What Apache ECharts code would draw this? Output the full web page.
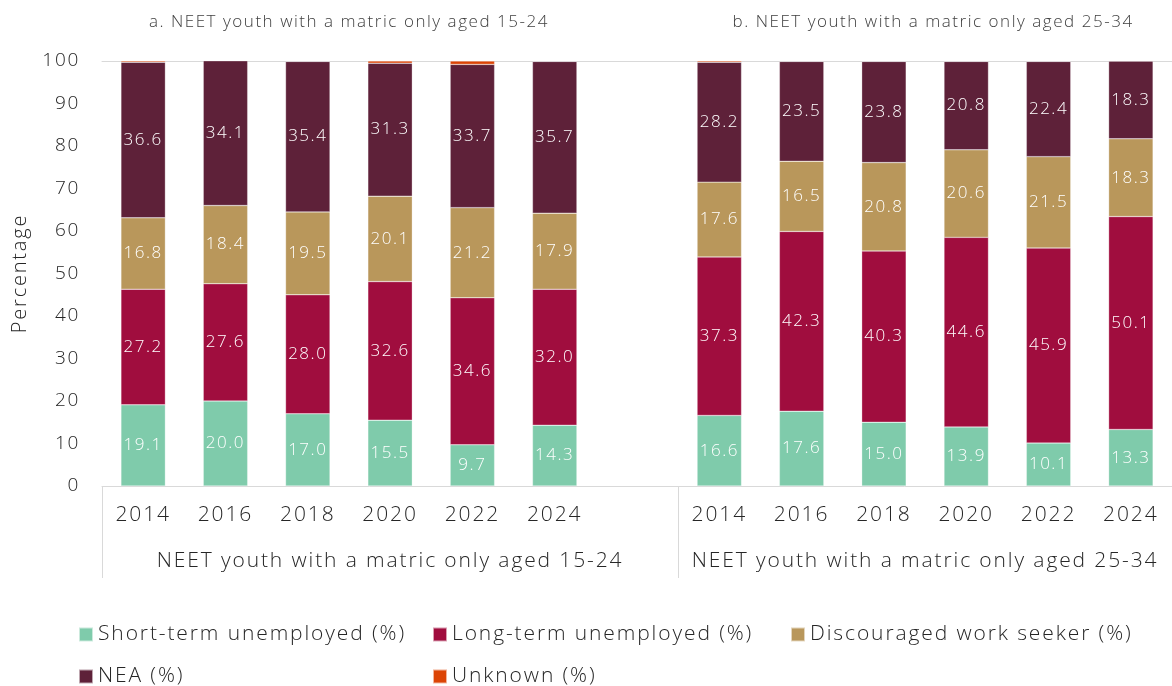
<!DOCTYPE html>
<html><head><meta charset="utf-8">
<script src="https://cdn.jsdelivr.net/npm/echarts@6/dist/echarts.min.js"></script>
<style>html,body{margin:0;padding:0;background:#fff}#c{width:1172px;height:686px}</style>
</head><body><div id="c"></div>
<script>
const years = ['2014','2016','2018','2020','2022','2024'];
const groupNames = ['NEET youth with a matric only aged 15-24','NEET youth with a matric only aged 25-34'];
const panelTitles = ['a. NEET youth with a matric only aged 15-24','b. NEET youth with a matric only aged 25-34'];
const seriesNames = ['Short-term unemployed (%)','Long-term unemployed (%)','Discouraged work seeker (%)','NEA (%)','Unknown (%)'];
const shortTerm15 = [19.1,20.0,17.0,15.5,9.7,14.3];
const longTerm15 = [27.2,27.6,28.0,32.6,34.6,32.0];
const discouraged15 = [16.8,18.4,19.5,20.1,21.2,17.9];
const nea15 = [36.6,34.1,35.4,31.3,33.7,35.7];
const unknown15 = [0.3,0.0,0.1,0.5,0.8,0.1];
const shortTerm25 = [16.6,17.6,15.0,13.9,10.1,13.3];
const longTerm25 = [37.3,42.3,40.3,44.6,45.9,50.1];
const discouraged25 = [17.6,16.5,20.8,20.6,21.5,18.3];
const nea25 = [28.2,23.5,23.8,20.8,22.4,18.3];
const unknown25 = [0.3,0.1,0.1,0.1,0.1,0.0];

// Widen text slightly (reference font is a wide geometric sans)
(function(){
  const P = CanvasRenderingContext2D.prototype;
  const setLS = ctx => {
    const m = /(\d+(?:\.\d+)?)px/.exec(ctx.font || '');
    if (m && 'letterSpacing' in ctx) ctx.letterSpacing = (parseFloat(m[1]) * 0.09).toFixed(2) + 'px';
  };
  const ft = P.fillText, mt = P.measureText;
  P.fillText = function(){ setLS(this); return ft.apply(this, arguments); };
  P.measureText = function(){ setLS(this); return mt.apply(this, arguments); };
})();

const colors = ['#7fcbab','#a00d3e','#b9975b','#5e2139','#dc4405'];
const FONT = '"Open Sans"';
const FW = 300;
const TXT = '#262626';

const categories = years.concat([''], years);
const join = (a, b) => a.concat(['-'], b);
const seriesData = [
  join(shortTerm15, shortTerm25),
  join(longTerm15, longTerm25),
  join(discouraged15, discouraged25),
  join(nea15, nea25),
  join(unknown15, unknown25)
];

const chart = echarts.init(document.getElementById('c'), null, {renderer:'canvas'});

const series = seriesNames.map((name, i) => ({
  name, type:'bar', stack:'total', xAxisIndex:0, yAxisIndex:0,
  barWidth:'54%',
  data: seriesData[i],
  itemStyle:{color:colors[i], borderColor:'rgba(255,255,255,0.6)', borderWidth:0.5},
  label:{show: i < 4, position:'inside', color:'#fff', fontFamily:FONT, fontWeight:FW, fontSize:17,
         formatter: p => Number(p.value).toFixed(1)},
  emphasis:{disabled:true}
}));

const legendPos = [[78,623],[432,623],[790,623],[78,665],[432,665]];
const legends = seriesNames.map((n, i) => ({
  data:[n], left:legendPos[i][0], top:legendPos[i][1], padding:0,
  icon:'rect', itemWidth:14, itemHeight:14, itemGap:5,
  textStyle:{fontFamily:FONT, fontWeight:FW, fontSize:21, color:TXT}, selectedMode:false
}));

const gridLeft = 102, gridRight = 0;

chart.setOption({
  backgroundColor:'#fff',
  animation:false,
  textStyle:{fontFamily:FONT},
  grid:{left:gridLeft, right:gridRight, top:61, bottom:200, containLabel:false},
  legend: legends,
  xAxis:[
    {type:'category', data:categories, position:'bottom',
     axisLine:{show:true, lineStyle:{color:'#d9d9d9', width:1}},
     axisTick:{show:false},
     axisLabel:{fontFamily:FONT, fontWeight:FW, fontSize:21, color:TXT, margin:18, interval:0}},
    {type:'value', min:0, max:categories.length, position:'bottom',
     axisLine:{show:false}, splitLine:{show:false},
     axisTick:{show:true, customValues:[0,7], length:92, lineStyle:{color:'#d9d9d9'}},
     axisLabel:{customValues:[3.5,10], fontFamily:FONT, fontWeight:FW, fontSize:21, color:TXT, margin:64,
                formatter: v => (v < 7 ? groupNames[0] : groupNames[1])}},
    {type:'value', min:0, max:categories.length, position:'top',
     axisLine:{show:true, lineStyle:{color:'#d9d9d9'}}, axisTick:{show:false},
     axisLabel:{show:false}, splitLine:{show:false}}
  ],
  yAxis:[{type:'value', min:0, max:100, interval:10,
    name:'Percentage', nameLocation:'middle', nameGap:66, nameRotate:90,
    nameTextStyle:{fontFamily:FONT, fontWeight:FW, fontSize:20, color:TXT},
    axisLine:{show:false}, axisTick:{show:false}, splitLine:{show:false},
    axisLabel:{fontFamily:FONT, fontWeight:FW, fontSize:19, color:TXT, margin:22}}],
  series
});

const c0 = chart.convertToPixel({xAxisIndex:0}, 0), c5 = chart.convertToPixel({xAxisIndex:0}, 5);
const c7 = chart.convertToPixel({xAxisIndex:0}, 7), c12 = chart.convertToPixel({xAxisIndex:0}, 12);
chart.setOption({
  graphic:[
    {type:'text', x:(c0+c5)/2, y:22, style:{text:panelTitles[0], fontFamily:FONT, fontWeight:FW, fontSize:17, fill:'#404040', textAlign:'center', textVerticalAlign:'middle'}},
    {type:'text', x:(c7+c12)/2 + 8, y:22, style:{text:panelTitles[1], fontFamily:FONT, fontWeight:FW, fontSize:17, fill:'#404040', textAlign:'center', textVerticalAlign:'middle'}}
  ]
});
</script></body></html>
